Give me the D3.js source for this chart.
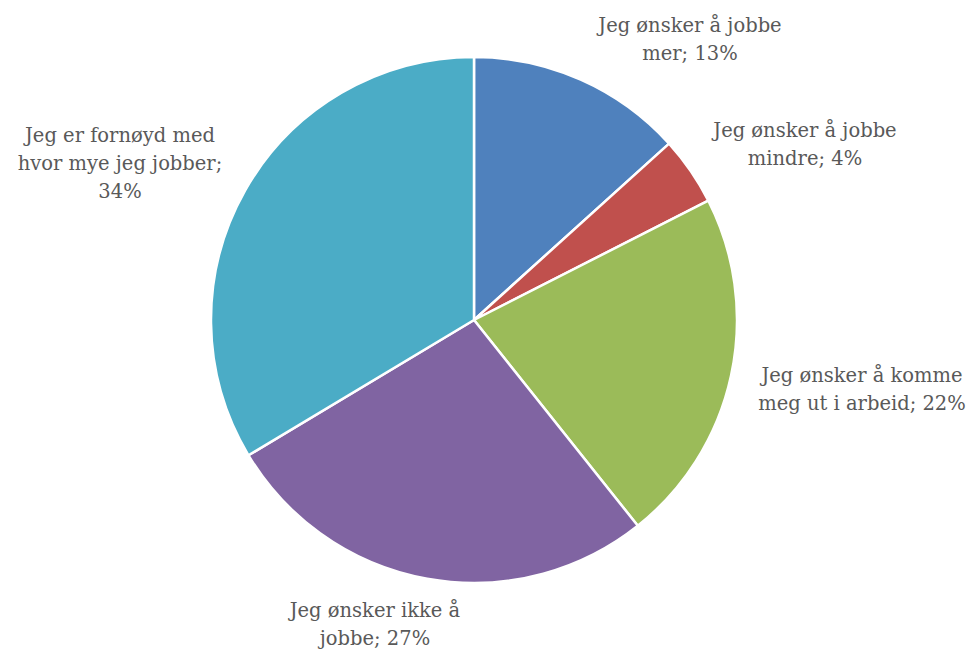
<!DOCTYPE html>
<html><head><meta charset="utf-8">
<script src="https://cdn.jsdelivr.net/npm/d3@7"></script>
<style>body{margin:0;background:#fff}</style>
</head><body>
<svg id="c" width="974" height="651"></svg>
<script>
const categories = ["Jeg ønsker å jobbe mer","Jeg ønsker å jobbe mindre","Jeg ønsker å komme meg ut i arbeid","Jeg ønsker ikke å jobbe","Jeg er fornøyd med hvor mye jeg jobber"];
const values = [13.3,4.2,21.8,27.1,33.6];
const percentLabels = ["13%","4%","22%","27%","34%"];
const colors = ["#4F81BD","#C0504D","#9BBB59","#8064A2","#4BACC6"];
const labelLines = [
  ["Jeg ønsker å jobbe","mer; 13%"],
  ["Jeg ønsker å jobbe","mindre; 4%"],
  ["Jeg ønsker å komme","meg ut i arbeid; 22%"],
  ["Jeg ønsker ikke å","jobbe; 27%"],
  ["Jeg er fornøyd med","hvor mye jeg jobber;","34%"]
];
const labelPos = [[690,25],[805,130],[862,375],[375,610],[120,135]];

const svg = d3.select("#c");
const cx = 474, cy = 320, r = 263;
const pie = d3.pie().sort(null).value(d=>d);
const arc = d3.arc().innerRadius(0).outerRadius(r);
const g = svg.append("g").attr("transform",`translate(${cx},${cy})`);
g.selectAll("path").data(pie(values)).join("path")
  .attr("d",arc).attr("fill",(d,i)=>colors[i])
  .attr("stroke","#fff").attr("stroke-width",2.5).attr("stroke-linejoin","round");

const lab = svg.append("g").attr("font-family","'DejaVu Serif', serif").attr("font-size",19.5).attr("fill","#595959").attr("text-anchor","middle");
labelLines.forEach((lines,i)=>{
  const t = lab.append("text").attr("x",labelPos[i][0]).attr("y",labelPos[i][1]).attr("dominant-baseline","central");
  lines.forEach((l,j)=>t.append("tspan").attr("x",labelPos[i][0]).attr("dy",j?28:0).text(l));
});
</script>
</body></html>
